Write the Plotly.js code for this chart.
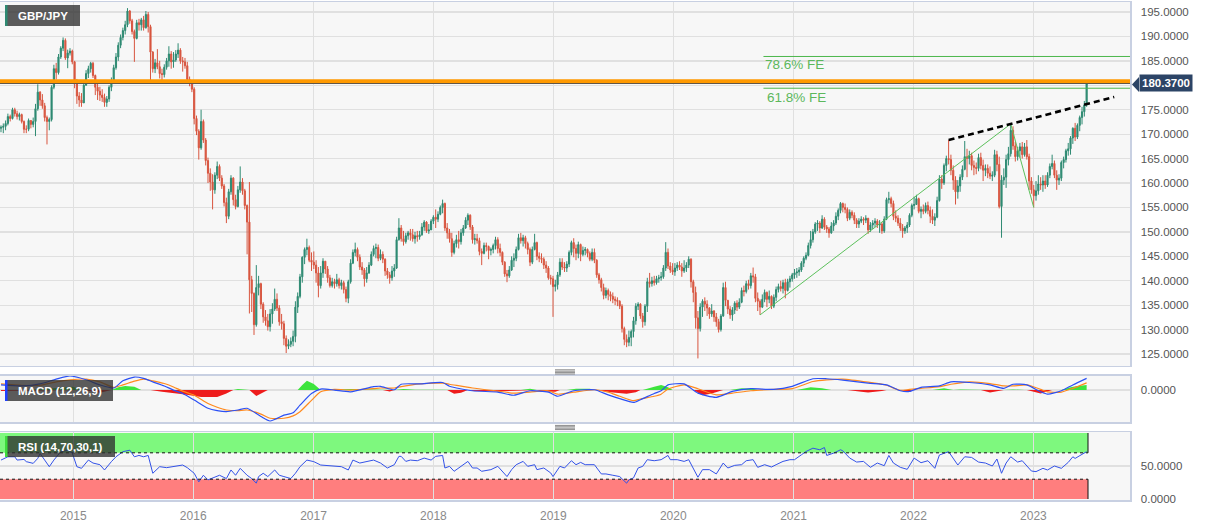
<!DOCTYPE html>
<html>
<head>
<meta charset="utf-8">
<script src="https://cdn.plot.ly/plotly-3.0.1.min.js"></script>
<style>
html,body{margin:0;padding:0;background:#ffffff;}
#chart{width:1207px;height:526px;}
</style>
</head>
<body>
<div id="chart"></div>
<script>
// ---------------- DATA (weekly GBP/JPY candles, first week starting 2014-05-26) ----------------
const firstWeek = '2014-05-26';

const open = [
171.2,171.4,171.6,172.2,173.6,173.2,175.0,174.2,173.6,174.0,
172.6,171.0,171.0,172.8,172.0,172.6,175.2,178.6,177.0,175.8,
173.4,172.6,173.0,179.6,183.4,182.6,185.8,187.6,189.2,185.6,
186.6,187.0,
184.8,180.7,177.8,177.0,176.4,180.0,182.4,183.4,184.5,182.0,
179.6,178.8,178.0,177.5,176.5,177.2,179.6,181.0,183.6,185.8,
188.2,189.8,191.2,192.4,195.2,193.2,191.0,189.6,192.8,192.4,
193.4,191.8,194.5,192.0,186.8,183.4,184.6,183.8,182.4,182.2,
183.7,185.0,186.4,184.8,185.2,186.4,187.2,185.0,184.8,184.0,
181.2,180.6,
179.2,173.2,170.6,167.2,172.6,168.8,164.6,162.0,160.2,158.6,
161.6,163.4,161.0,159.4,156.0,153.2,158.2,161.0,156.6,155.2,
158.6,160.2,158.4,155.4,152.0,140.2,137.4,131.0,138.6,139.4,
135.2,132.6,131.8,130.6,133.2,134.2,136.2,134.4,131.6,131.2,
128.2,126.6,127.0,127.6,128.6,134.6,136.8,140.8,144.8,146.4,
146.8,144.2,
143.8,143.2,141.6,139.0,141.6,144.0,142.4,140.6,139.0,139.8,
139.4,140.2,139.0,139.6,138.2,136.4,139.8,143.6,145.8,146.4,
144.8,142.8,142.2,140.4,141.6,143.2,145.4,146.6,146.8,144.6,
145.4,144.4,142.0,141.2,140.6,142.0,142.6,148.4,150.8,148.6,
148.0,149.2,149.8,149.4,148.6,149.2,149.0,149.4,151.0,152.0,
150.2,150.4,
152.2,153.0,152.6,153.6,155.0,155.8,150.8,149.8,148.6,145.8,
147.6,148.4,148.0,149.8,150.8,152.4,153.4,151.0,148.4,148.6,
148.2,146.0,145.6,147.2,147.0,146.2,146.4,147.2,148.4,146.6,
145.8,143.8,141.4,141.0,142.2,144.2,144.6,146.4,148.8,148.2,
148.8,147.6,146.4,143.8,146.4,147.8,145.0,144.6,144.4,143.2,
142.6,140.6,
140.4,138.8,139.2,141.2,143.8,142.8,142.6,143.4,145.8,147.8,
146.6,145.6,147.4,145.4,146.2,146.4,145.6,144.4,145.8,144.2,
141.2,140.2,138.6,137.0,138.0,137.2,136.8,136.2,136.0,135.8,
134.8,130.2,128.0,127.4,128.4,129.6,131.8,134.8,135.2,132.8,
131.6,134.8,139.8,139.4,140.0,139.6,140.4,140.6,140.8,142.6,
145.8,143.0,
142.2,141.8,142.6,143.2,142.8,142.0,142.6,143.2,144.4,139.8,
137.6,132.4,130.2,134.6,135.8,135.2,134.4,133.2,133.8,132.6,
131.6,130.0,132.8,138.6,136.0,134.2,133.0,134.0,135.4,134.6,
135.6,138.0,137.8,139.4,139.0,141.0,140.8,136.4,135.8,134.6,
136.2,137.6,136.2,136.8,134.8,136.6,138.2,138.8,138.4,139.6,
138.0,139.8,140.4,
141.2,141.6,141.8,142.2,143.6,144.6,145.2,147.2,148.4,150.0,
151.6,151.8,150.8,152.6,151.0,150.6,149.8,151.2,151.8,153.2,
154.4,155.8,155.0,154.6,152.8,154.0,153.4,152.4,151.6,152.2,
152.6,152.4,152.8,150.4,151.4,151.8,152.2,151.4,151.6,150.2,
152.6,156.6,156.8,155.8,153.2,152.8,151.8,150.8,150.2,150.8,
151.4,153.4,
155.4,155.6,156.8,154.2,154.6,154.2,155.4,154.4,153.2,152.4,
153.0,156.4,160.8,160.0,163.6,165.0,164.8,162.6,160.6,158.2,
159.4,161.2,162.8,165.4,165.0,165.6,163.6,163.2,163.0,165.2,
163.6,162.6,163.0,162.0,161.4,161.6,165.8,163.8,155.2,160.6,
161.2,164.8,166.0,170.8,167.6,165.4,166.6,167.4,165.8,167.4,
165.4,160.4,
158.6,157.4,158.4,159.8,159.6,160.4,159.6,161.6,163.4,164.0,
161.6,160.6,161.0,164.2,164.8,166.6,167.0,169.2,171.2,169.4,
171.8,173.4,174.6,176.0
];

const high = [
171.8,172.2,172.8,174.2,174.0,175.4,175.4,174.8,174.4,174.2,
172.8,171.8,173.2,172.8,173.4,176.2,180.2,178.8,178.2,176.4,
173.8,173.4,180.0,184.2,184.6,186.4,188.0,189.8,189.6,187.3,
187.6,187.3,
185.0,181.3,178.6,178.4,181.0,183.1,184.0,184.8,184.8,182.2,
181.1,179.7,179.2,178.3,177.8,180.0,181.6,184.2,186.6,188.8,
190.4,191.8,193.2,195.8,195.4,193.6,191.4,193.4,193.6,193.8,
194.2,195.2,195.0,192.4,187.0,185.4,187.4,185.0,183.4,184.3,
185.6,188.0,187.0,186.8,187.2,188.6,187.6,185.8,185.6,184.8,
181.8,181.0,
179.6,173.8,171.0,175.0,173.0,169.2,165.2,163.0,161.8,162.2,
164.4,163.8,161.6,159.8,157.0,158.8,161.6,161.2,157.6,159.4,
163.4,161.0,158.8,155.6,160.2,141.0,137.6,143.2,141.0,139.6,
135.6,134.0,133.2,134.2,135.4,138.4,137.4,135.0,133.2,131.8,
128.8,128.0,128.4,129.8,135.8,137.6,141.4,145.0,146.8,148.6,
147.2,145.8,
146.0,144.2,142.8,143.0,144.6,144.0,143.0,141.2,140.6,140.4,
141.4,140.6,140.2,140.0,138.8,140.2,144.4,146.4,147.8,146.8,
145.4,143.8,142.6,142.8,143.8,146.0,147.2,147.6,147.4,146.4,
146.0,144.6,142.6,141.8,143.0,143.4,149.0,152.8,151.4,150.2,
149.8,150.2,150.6,150.6,150.0,150.2,150.2,151.8,152.4,152.2,
151.6,152.6,
153.4,154.6,154.2,155.4,156.6,156.0,151.8,150.6,149.8,148.2,
149.4,150.2,150.6,151.4,153.0,153.8,153.6,151.4,149.6,149.6,
148.8,146.6,147.8,147.8,147.2,146.8,147.6,149.0,148.9,147.6,
146.0,144.0,142.2,143.0,145.0,145.6,147.0,149.6,149.8,149.4,
149.2,148.0,146.8,147.0,149.6,148.0,145.8,145.6,144.8,144.0,
143.0,141.2,
141.0,140.2,141.8,144.6,144.6,143.8,144.0,146.2,148.2,148.7,
147.4,148.0,147.6,147.0,146.9,146.6,146.0,146.6,146.6,144.4,
141.6,140.6,139.4,138.6,138.4,137.8,137.6,136.8,136.6,136.0,
135.2,130.6,129.0,129.8,130.0,132.6,135.4,135.6,135.4,133.4,
135.2,140.6,141.6,140.8,141.0,141.0,141.2,141.8,143.2,147.9,
146.6,143.8,
143.6,143.6,143.8,144.0,143.6,144.2,143.8,145.0,144.6,140.2,
138.8,133.8,135.4,136.2,136.6,136.0,134.6,135.2,134.0,133.4,
132.2,133.2,139.6,139.8,136.0,134.8,134.6,135.8,136.0,136.4,
138.6,139.0,140.0,140.2,141.6,142.7,141.4,137.6,136.2,137.2,
138.2,137.8,138.0,137.0,137.2,138.8,139.4,140.0,140.2,140.4,
140.4,141.0,141.6,
142.4,142.6,142.8,144.0,145.0,145.8,147.8,150.2,150.6,152.0,
152.4,152.2,153.4,153.0,151.4,151.0,152.0,152.4,154.0,154.8,
156.1,156.0,155.8,155.0,154.6,154.4,154.0,152.8,152.8,153.2,
153.0,153.4,152.8,152.0,152.4,152.8,152.6,152.4,152.0,153.2,
157.0,158.2,157.2,156.4,154.4,153.4,152.8,151.6,151.2,152.0,
153.8,155.8,
157.2,157.6,157.0,155.2,155.6,156.0,156.2,155.2,154.6,153.8,
157.2,161.6,161.6,164.0,165.6,168.8,165.8,163.6,161.4,160.6,
161.8,163.6,168.6,167.0,166.6,166.2,164.6,164.2,166.0,166.2,
164.8,163.8,163.8,163.4,162.4,166.8,166.6,165.4,161.6,163.0,
165.8,167.4,172.1,171.6,168.4,167.4,168.2,168.4,168.2,168.8,
166.0,161.2,
159.6,160.4,161.6,161.2,161.6,161.6,162.2,164.0,165.8,164.6,
162.6,161.8,164.6,165.4,167.0,168.2,169.6,171.4,172.3,172.2,
173.8,175.6,176.8,180.6
];

const low = [
170.4,170.2,170.8,171.8,172.6,173.0,173.6,173.0,172.8,172.2,
170.2,170.2,170.6,171.2,171.4,169.6,174.8,175.8,175.2,172.6,
167.9,170.8,172.6,179.2,181.2,182.2,185.4,187.0,185.2,183.5,
186.1,184.3,
179.4,176.2,175.6,175.6,176.4,180.0,181.5,182.6,181.5,178.0,
177.0,176.8,176.6,175.6,175.6,176.6,178.8,180.6,183.2,185.0,
187.6,189.2,190.4,191.9,192.6,190.4,184.8,189.4,191.2,191.2,
191.2,191.6,190.8,180.5,182.6,182.5,183.3,181.4,180.8,181.6,
183.2,183.8,183.4,183.6,184.8,185.6,184.4,182.8,183.4,180.6,
179.8,178.6,
172.0,169.8,164.8,166.8,168.2,163.6,160.0,158.4,154.6,157.8,
160.8,160.4,158.8,155.2,151.8,152.6,157.6,155.4,154.6,155.0,
158.0,157.6,154.6,145.4,133.3,133.6,128.9,130.6,137.0,134.2,
131.4,130.8,129.8,129.6,131.2,133.8,133.8,130.8,130.0,126.8,
125.2,126.0,126.4,126.6,127.4,133.4,136.4,139.6,143.4,145.2,
143.8,142.0,
142.4,139.6,136.6,138.4,140.6,141.4,139.6,138.6,138.6,138.4,
138.8,138.4,138.2,137.4,135.6,135.4,139.4,143.4,145.0,144.0,
142.2,141.2,138.8,139.6,141.4,143.0,145.0,144.6,144.0,144.2,
143.6,141.0,140.4,139.4,140.0,140.8,142.4,148.2,148.0,147.2,
147.6,148.4,148.2,148.0,147.6,148.0,148.4,149.2,150.2,149.8,
149.6,150.4,
151.6,150.8,152.0,153.4,153.8,150.2,148.6,147.8,144.9,145.4,
146.8,146.6,147.4,149.2,150.6,151.4,150.4,147.6,147.4,147.6,
145.2,143.2,145.4,146.0,144.4,145.2,145.6,146.4,145.6,145.0,
143.2,140.8,139.7,140.6,142.0,142.8,144.0,146.2,147.6,147.0,
146.6,145.4,143.0,143.4,146.2,144.2,143.8,143.6,142.4,141.6,
140.2,139.2,
132.6,137.8,138.2,140.8,142.2,141.8,141.8,142.8,145.2,144.8,
144.2,144.6,144.0,145.0,145.2,144.8,144.0,144.0,143.6,140.6,
139.4,137.8,136.2,136.4,136.0,135.8,135.4,135.0,134.8,134.2,
129.4,126.8,126.4,126.6,126.6,128.4,131.0,134.0,132.2,130.4,
130.8,133.6,138.6,138.8,139.0,139.2,139.6,140.0,140.4,142.0,
142.4,141.6,
141.2,141.0,142.0,142.2,140.8,141.6,141.8,142.6,138.6,135.6,
130.2,124.1,129.6,132.6,133.8,132.8,132.2,132.6,131.6,130.6,
129.4,129.6,132.6,134.8,133.2,132.2,131.8,133.2,133.8,134.2,
135.4,136.8,137.4,138.2,138.4,139.6,135.6,133.8,133.0,134.4,
135.6,134.6,135.4,134.2,134.4,135.8,137.6,137.8,137.4,136.4,
137.8,138.6,139.8,
140.4,140.6,141.0,141.8,142.8,144.2,145.0,146.6,147.8,149.6,
150.2,149.8,150.6,150.4,149.8,148.8,149.6,150.2,151.4,152.4,
153.8,154.0,153.8,152.2,152.4,152.8,151.6,150.8,150.8,151.8,
151.4,151.8,149.6,150.0,150.6,151.0,150.8,149.8,149.6,149.8,
152.4,155.8,155.0,152.4,152.0,151.2,150.2,148.8,149.6,149.8,
151.0,153.0,
154.6,155.6,153.8,152.8,153.6,153.8,153.6,151.8,151.6,151.2,
152.8,156.2,158.8,159.6,162.4,163.8,161.6,158.6,155.6,156.8,
158.2,160.6,162.6,161.2,163.8,162.6,161.6,161.8,162.4,162.8,
160.4,161.4,161.0,160.8,160.4,161.2,162.4,154.8,148.8,159.6,
159.0,163.6,165.4,166.8,164.4,164.6,165.2,165.0,165.4,164.8,
158.6,157.8,
155.0,156.4,157.6,158.6,158.2,158.8,159.2,161.0,162.8,161.0,
158.6,159.6,160.4,163.0,164.2,165.6,165.8,168.0,168.6,169.0,
170.6,172.0,173.6,175.6
];

const close = [
171.4,171.6,172.2,173.6,173.2,175.0,174.2,173.6,174.0,172.6,
171.0,171.0,172.8,172.0,172.6,175.2,178.6,177.0,175.8,173.4,
172.6,173.0,179.6,183.4,182.6,185.8,187.6,189.2,185.6,186.6,
187.0,184.8,
180.7,177.8,177.0,176.4,180.0,182.4,183.4,184.5,182.0,179.6,
178.8,178.0,177.5,176.5,177.2,179.6,181.0,183.6,185.8,188.2,
189.8,191.2,192.4,195.2,193.2,191.0,189.6,192.8,192.4,193.4,
191.8,194.5,192.0,186.8,183.4,184.6,183.8,182.4,182.2,183.7,
185.0,186.4,184.8,185.2,186.4,187.2,185.0,184.8,184.0,181.2,
180.6,179.2,
173.2,170.6,167.2,172.6,168.8,164.6,162.0,160.2,158.6,161.6,
163.4,161.0,159.4,156.0,153.2,158.2,161.0,156.6,155.2,158.6,
160.2,158.4,155.4,152.0,140.2,137.4,131.0,138.6,139.4,135.2,
132.6,131.8,130.6,133.2,134.2,136.2,134.4,131.6,131.2,128.2,
126.6,127.0,127.6,128.6,134.6,136.8,140.8,144.8,146.4,146.8,
144.2,143.8,
143.2,141.6,139.0,141.6,144.0,142.4,140.6,139.0,139.8,139.4,
140.2,139.0,139.6,138.2,136.4,139.8,143.6,145.8,146.4,144.8,
142.8,142.2,140.4,141.6,143.2,145.4,146.6,146.8,144.6,145.4,
144.4,142.0,141.2,140.6,142.0,142.6,148.4,150.8,148.6,148.0,
149.2,149.8,149.4,148.6,149.2,149.0,149.4,151.0,152.0,150.2,
150.4,152.2,
153.0,152.6,153.6,155.0,155.8,150.8,149.8,148.6,145.8,147.6,
148.4,148.0,149.8,150.8,152.4,153.4,151.0,148.4,148.6,148.2,
146.0,145.6,147.2,147.0,146.2,146.4,147.2,148.4,146.6,145.8,
143.8,141.4,141.0,142.2,144.2,144.6,146.4,148.8,148.2,148.8,
147.6,146.4,143.8,146.4,147.8,145.0,144.6,144.4,143.2,142.6,
140.6,140.4,
138.8,139.2,141.2,143.8,142.8,142.6,143.4,145.8,147.8,146.6,
145.6,147.4,145.4,146.2,146.4,145.6,144.4,145.8,144.2,141.2,
140.2,138.6,137.0,138.0,137.2,136.8,136.2,136.0,135.8,134.8,
130.2,128.0,127.4,128.4,129.6,131.8,134.8,135.2,132.8,131.6,
134.8,139.8,139.4,140.0,139.6,140.4,140.6,140.8,142.6,145.8,
143.0,142.2,
141.8,142.6,143.2,142.8,142.0,142.6,143.2,144.4,139.8,137.6,
132.4,130.2,134.6,135.8,135.2,134.4,133.2,133.8,132.6,131.6,
130.0,132.8,138.6,136.0,134.2,133.0,134.0,135.4,134.6,135.6,
138.0,137.8,139.4,139.0,141.0,140.8,136.4,135.8,134.6,136.2,
137.6,136.2,136.8,134.8,136.6,138.2,138.8,138.4,139.6,138.0,
139.8,140.4,141.2,
141.6,141.8,142.2,143.6,144.6,145.2,147.2,148.4,150.0,151.6,
151.8,150.8,152.6,151.0,150.6,149.8,151.2,151.8,153.2,154.4,
155.8,155.0,154.6,152.8,154.0,153.4,152.4,151.6,152.2,152.6,
152.4,152.8,150.4,151.4,151.8,152.2,151.4,151.6,150.2,152.6,
156.6,156.8,155.8,153.2,152.8,151.8,150.8,150.2,150.8,151.4,
153.4,155.4,
155.6,156.8,154.2,154.6,154.2,155.4,154.4,153.2,152.4,153.0,
156.4,160.8,160.0,163.6,165.0,164.8,162.6,160.6,158.2,159.4,
161.2,162.8,165.4,165.0,165.6,163.6,163.2,163.0,165.2,163.6,
162.6,163.0,162.0,161.4,161.6,165.8,163.8,155.2,160.6,161.2,
164.8,166.0,170.8,167.6,165.4,166.6,167.4,165.8,167.4,165.4,
160.4,158.6,
157.4,158.4,159.8,159.6,160.4,159.6,161.6,163.4,164.0,161.6,
160.6,161.0,164.2,164.8,166.6,167.0,169.2,171.2,169.4,171.8,
173.4,174.6,176.0,180.37
];

// MACD (12,26,9): week number -> value
const macdWeek = [0,9,17,24,30,37,43,49,53,58,62,66,71,75,79,84,90,94,98,103,107,113,117,123,127,130,135,139,145,152,162,165,171,174,182,192,195,205,216,223,230,238,242,249,258,264,269,275,278,284,287,290,297,303,311,318,326,336,344,353,359,366,377,385,391,395,400,408,413,421,430,436,440,446,452,455,461,466,472];
const macdLine = [
1.5,1.2,1.8,3.2,4.1,3.0,1.5,0.6,2.7,3.8,
3.4,2.4,1.2,0.0,-1.0,-2.9,-5.3,-6.0,-6.3,-5.8,
-5.3,-7.7,-9.0,-7.3,-6.6,-4.4,-1.0,0.3,0.0,-0.5,
1.0,1.1,0.1,1.7,1.8,2.2,1.1,-0.2,-0.6,-1.5,
-0.2,-0.6,-1.8,-0.2,0.1,-1.4,-2.5,-3.6,-2.8,-1.0,
-0.2,1.5,1.8,-0.9,-2.1,-0.4,0.4,0.2,1.1,3.3,
3.3,2.9,2.0,1.5,-0.2,-0.4,0.8,1.2,2.4,2.2,
1.5,0.5,1.7,1.5,-0.5,-1.2,-0.2,1.5,3.4];
const signalLine = [
1.8,1.4,1.4,2.4,3.0,3.2,2.4,0.8,1.5,2.6,
3.2,2.7,1.9,0.9,-0.3,-1.5,-3.9,-5.0,-5.8,-6.0,
-5.8,-7.0,-8.2,-8.2,-7.5,-6.3,-3.0,-0.5,0.2,0.0,
0.4,0.6,0.6,1.0,1.8,2.0,1.7,0.6,-0.3,-0.9,
-0.6,-0.2,-1.2,-0.6,0.1,-0.6,-1.8,-3.1,-2.6,-1.8,
-1.2,0.3,1.5,0.4,-1.4,-0.9,-0.2,0.2,0.4,2.5,
3.0,3.2,2.3,1.4,-0.1,0.2,0.5,1.0,1.7,2.4,
1.9,1.2,1.2,1.5,0.2,-0.5,-0.6,0.5,2.1];
const histWeek = [0,10,20,26,31,36,43,48,51,54,58,61,65,70,75,80,87,94,98,101,103,107,108,111,116,129,131,133,136,139,145,152,160,166,169,171,175,180,192,194,197,200,203,205,215,225,226,230,233,235,241,243,246,250,256,258,259,265,272,276,278,279,284,287,290,292,301,305,309,314,317,322,327,329,335,346,352,357,361,368,374,377,383,385,391,394,397,405,410,414,417,421,426,430,436,440,445,446,452,457,461,465,468,472];
const histVal = [-0.3,-0.2,0.4,0.8,1.0,0.0,-0.8,0,0.8,1.2,1.0,0,0,-0.5,-0.8,-1.3,-2.0,-2.0,-1.0,0,0.3,0,0,-1.7,0,0,1.5,2.7,1.8,0,0.1,0.3,0.2,0,-0.4,0,0.3,0.1,0.1,0,-1.1,-0.8,0,-0.3,-0.4,-0.1,0,0.4,0,-0.4,-0.5,0,0,0.4,0.4,0,0,-0.6,-1.1,-0.6,0,0,1.0,1.5,0.8,0,0,-1.5,-1.0,0,0,0.5,0.4,0,0.1,0,0.8,0.5,0,0,-0.5,-0.7,-0.3,0,0,-0.5,0,0,0.5,0,0.2,0.1,0,-0.7,0,0.2,0,0,-1.0,0,0,0.8,1.2,1.5];

// RSI (14): week number -> value
const rsiWeek = [0,3,6,7,10,11,14,16,17,19,21,23,26,29,31,33,35,38,40,43,45,48,50,53,56,58,60,62,64,66,69,72,75,79,81,84,86,88,90,93,95,98,100,102,104,107,109,111,112,114,116,119,121,123,126,128,130,133,136,139,143,148,151,153,156,159,162,165,168,171,173,174,176,178,181,184,187,189,192,193,195,197,200,203,205,207,209,213,216,218,220,222,224,227,229,232,233,236,239,240,243,245,248,250,252,254,258,261,263,266,269,272,273,275,277,279,281,284,287,290,291,294,297,299,301,303,305,308,311,314,316,319,322,324,327,329,332,335,337,340,343,345,348,350,353,356,358,359,362,365,366,369,372,375,378,381,384,386,388,391,394,397,400,403,406,408,412,416,419,422,425,428,431,433,435,437,439,442,444,446,448,450,453,455,458,461,464,466,467,470,472];
const rsiVal = [59,64,64,59,60,56.6,54,61.6,69,59,49,59,71.7,74,69.6,49,46.5,59,54.5,52,44,56.6,64,71.7,74,64,66,64,66,39,49,47.5,49,51.5,47.5,39,26,36,29,33,36,31,44,36,46.5,36,31,24,34,39,34,44,36,34,31,39,49,59,56.6,51.5,50,49,44,59,54.5,56.6,59,54.5,47,52,64.6,64.6,57,59,58,62,59,64.6,66,47,49.5,42,49.5,57,47,47,42,44.5,49.5,42,34,44.5,52,57,49.5,52,44.5,47,39.5,34,49.5,47,58,52,55.5,52,52,38,38,36,34,24,29,32,47,49.5,59.6,58,59.6,66,59.6,59.6,57,59.6,47,33,44.5,44.5,38,54.5,47,51,52,58,59.6,48,52,48.5,52,57,59.6,59.6,67,72,77,74.6,78,66,69.5,74.6,73,62,56,57,48,54.5,50.5,66,54.5,48,45,62,55,58,46.5,66.7,71.7,51.5,64,63,56,54.5,50,60.6,39,54.5,64,56,58,50,42.4,41.5,46.5,44,50,46.5,55.5,64,61.5,67.7,71.7];

// Drawn studies
const fibWeeks = [330, 439, 449];
const fibValues = [133.0, 172.1, 155.0];
const trendWeeks = [412, 484];
const trendValues = [168.8, 177.6];
const feLevels = [185.9, 179.4];
const feLabels = ['78.6% FE', '61.8% FE'];
const feLabelValues = [184.35, 177.6];
const resistanceLevel = 180.85;
const lastPrice = 180.37;
const rsiUpper = 70, rsiLower = 30;

// ---------------- helpers ----------------
const DAY = 86400000;
const T0 = Date.UTC(2014, 4, 26);
function weekDate(w) {
  return new Date(T0 + w * 7 * DAY).toISOString().slice(0, 19).replace('T', ' ');
}
const dates = close.map((_, i) => weekDate(i));
const X0 = '2014-05-23', X1 = '2023-10-22';
const PW = 1130, PT = 2, PB = 500, PH = 498;
const px = x => x / PW;
const py = y => (PB - y) / PH;

const FONT = 'Liberation Sans, Arial, sans-serif';
const GRID = '#e0e0e0';
const BORDER = '#c8d0e2';
const UP = '#2e8a72', DOWN = '#d8553f';

const histPos = histVal.map(v => (v > 0 ? v : 0));
const histNeg = histVal.map(v => (v < 0 ? v : 0));
const histDates = histWeek.map(weekDate);

const traces = [
  {
    type: 'candlestick', x: dates, open: open, high: high, low: low, close: close,
    xaxis: 'x', yaxis: 'y', hoverinfo: 'skip', whiskerwidth: 0,
    increasing: { line: { color: UP, width: 1 }, fillcolor: UP },
    decreasing: { line: { color: DOWN, width: 1 }, fillcolor: DOWN }
  },
  {
    type: 'scatter', mode: 'lines', x: fibWeeks.map(weekDate), y: fibValues,
    xaxis: 'x', yaxis: 'y', line: { color: '#5cc05c', width: 1 }, hoverinfo: 'skip'
  },
  {
    type: 'scatter', mode: 'lines', x: trendWeeks.map(weekDate), y: trendValues,
    xaxis: 'x', yaxis: 'y', line: { color: '#000000', width: 2.6, dash: '6px,4px' }, hoverinfo: 'skip'
  },
  {
    type: 'scatter', mode: 'lines', x: histDates, y: histPos, xaxis: 'x2', yaxis: 'y2',
    fill: 'tozeroy', fillcolor: '#3de43d', line: { width: 0, color: '#3de43d' }, hoverinfo: 'skip'
  },
  {
    type: 'scatter', mode: 'lines', x: histDates, y: histNeg, xaxis: 'x2', yaxis: 'y2',
    fill: 'tozeroy', fillcolor: '#ee1c1c', line: { width: 0, color: '#ee1c1c' }, hoverinfo: 'skip'
  },
  {
    type: 'scatter', mode: 'lines', x: macdWeek.map(weekDate), y: signalLine, xaxis: 'x2', yaxis: 'y2',
    line: { color: '#ff8a1e', width: 1.2, shape: 'spline', smoothing: 0.6 }, hoverinfo: 'skip'
  },
  {
    type: 'scatter', mode: 'lines', x: macdWeek.map(weekDate), y: macdLine, xaxis: 'x2', yaxis: 'y2',
    line: { color: '#2b50f5', width: 1.2, shape: 'spline', smoothing: 0.6 }, hoverinfo: 'skip'
  },
  {
    type: 'scatter', mode: 'lines', x: rsiWeek.map(weekDate), y: rsiVal, xaxis: 'x3', yaxis: 'y3',
    line: { color: '#3352e8', width: 1 }, hoverinfo: 'skip'
  }
];

const xBase = {
  type: 'date', range: [X0, X1], showgrid: true, gridcolor: GRID, gridwidth: 1.3,
  tick0: '2015-01-01', dtick: 'M12', zeroline: false, showline: true, mirror: true,
  linecolor: BORDER, linewidth: 1.5, fixedrange: true, rangeslider: { visible: false }
};
const yTickFont = { family: FONT, size: 11.5, color: '#555555' };
const yBase = {
  side: 'right', showgrid: true, gridcolor: GRID, gridwidth: 1.3, zeroline: false,
  showline: true, mirror: true, linecolor: BORDER, linewidth: 1.5, fixedrange: true,
  ticks: 'outside', ticklen: 7, tickcolor: 'rgba(0,0,0,0)', tickfont: yTickFont
};

const bandEnd = weekDate(472.6);
const shapes = [
  // RSI zones
  { type: 'rect', xref: 'x3', yref: 'y3', x0: X0, x1: bandEnd, y0: rsiUpper, y1: 100, fillcolor: '#7ef87e', line: { width: 0 }, layer: 'below' },
  { type: 'rect', xref: 'x3', yref: 'y3', x0: X0, x1: bandEnd, y0: 0, y1: rsiLower, fillcolor: '#ff7e7e', line: { width: 0 }, layer: 'below' },
  { type: 'line', xref: 'x3', yref: 'y3', x0: X0, x1: bandEnd, y0: rsiUpper, y1: rsiUpper, line: { color: '#111', width: 1, dash: 'dot' } },
  { type: 'line', xref: 'x3', yref: 'y3', x0: X0, x1: bandEnd, y0: rsiLower, y1: rsiLower, line: { color: '#111', width: 1, dash: 'dot' } },
  { type: 'line', xref: 'x3', yref: 'y3', x0: bandEnd, x1: bandEnd, y0: rsiUpper, y1: 100, line: { color: '#111', width: 1 } },
  { type: 'line', xref: 'x3', yref: 'y3', x0: bandEnd, x1: bandEnd, y0: 0, y1: rsiLower, line: { color: '#111', width: 1 } },
  // Fibonacci expansion levels
  { type: 'line', xref: 'x', yref: 'y', x0: weekDate(331.5), x1: X1, y0: feLevels[0], y1: feLevels[0], line: { color: '#4cb64c', width: 1 } },
  { type: 'line', xref: 'x', yref: 'y', x0: weekDate(331.5), x1: X1, y0: feLevels[1], y1: feLevels[1], line: { color: '#4cb64c', width: 1 } },
  // last price + resistance
  { type: 'line', xref: 'paper', yref: 'y', x0: 0, x1: 1, y0: lastPrice, y1: lastPrice, line: { color: '#2b3e5e', width: 1 } },
  { type: 'line', xref: 'paper', yref: 'y', x0: 0, x1: 1, y0: resistanceLevel, y1: resistanceLevel, line: { color: '#ff9900', width: 4 } },
  // price tag arrow
  { type: 'path', xref: 'paper', yref: 'paper',
    path: `M ${px(1132)} ${py(84.5)} L ${px(1139)} ${py(77)} L ${px(1139)} ${py(92)} Z`,
    fillcolor: '#2c4466', line: { width: 0 } },
  // label boxes
  { type: 'rect', xref: 'paper', yref: 'paper', x0: px(5), x1: px(80), y0: py(26), y1: py(5), fillcolor: 'rgba(48,48,48,0.78)', line: { width: 0 } },
  { type: 'rect', xref: 'paper', yref: 'paper', x0: px(5), x1: px(7.5), y0: py(26), y1: py(5), fillcolor: UP, line: { width: 0 } },
  { type: 'rect', xref: 'paper', yref: 'paper', x0: px(5), x1: px(113), y0: py(401), y1: py(380), fillcolor: 'rgba(48,48,48,0.78)', line: { width: 0 } },
  { type: 'rect', xref: 'paper', yref: 'paper', x0: px(5), x1: px(7.5), y0: py(401), y1: py(380), fillcolor: '#2040ff', line: { width: 0 } },
  { type: 'rect', xref: 'paper', yref: 'paper', x0: px(5), x1: px(115), y0: py(457), y1: py(436), fillcolor: 'rgba(48,48,48,0.78)', line: { width: 0 } },
  { type: 'rect', xref: 'paper', yref: 'paper', x0: px(5), x1: px(7.5), y0: py(457), y1: py(436), fillcolor: '#3ddc3d', line: { width: 0 } }
];
// panel resize handles
[369.8, 371.2, 372.6, 374.0, 425.4, 426.8, 428.2, 429.6].forEach(y => {
  shapes.push({ type: 'line', xref: 'paper', yref: 'paper', x0: px(555), x1: px(575), y0: py(y), y1: py(y), line: { color: '#8a8a8a', width: 1 } });
});

const labelFont = { family: FONT, size: 11.5, color: '#ffffff', weight: 'bold' };
const annotations = [
  { xref: 'paper', yref: 'paper', x: px(16), y: py(15.5), text: 'GBP/JPY', showarrow: false, xanchor: 'left', yanchor: 'middle', font: labelFont },
  { xref: 'paper', yref: 'paper', x: px(16), y: py(390.5), text: 'MACD (12,26,9)', showarrow: false, xanchor: 'left', yanchor: 'middle', font: labelFont },
  { xref: 'paper', yref: 'paper', x: px(16), y: py(446.5), text: 'RSI (14,70,30,1)', showarrow: false, xanchor: 'left', yanchor: 'middle', font: labelFont },
  { xref: 'x', yref: 'y', x: weekDate(331.5), y: feLabelValues[0], text: feLabels[0], showarrow: false, xanchor: 'left', yanchor: 'middle',
    font: { family: FONT, size: 13.5, color: '#5cb85c' } },
  { xref: 'x', yref: 'y', x: weekDate(332.2), y: feLabelValues[1], text: feLabels[1], showarrow: false, xanchor: 'left', yanchor: 'middle',
    font: { family: FONT, size: 13.5, color: '#5cb85c' } },
  { xref: 'paper', yref: 'y', x: px(1139), y: lastPrice, text: lastPrice.toFixed(4), showarrow: false, xanchor: 'left', yanchor: 'middle',
    bgcolor: '#2c4466', borderpad: 2, font: { family: FONT, size: 11.5, color: '#ffffff', weight: 'bold' } }
];

const layout = {
  width: 1207, height: 526,
  margin: { l: 0, r: 77, t: PT, b: 26, pad: 0 },
  paper_bgcolor: '#ffffff', plot_bgcolor: '#f7f7f7',
  font: { family: FONT },
  showlegend: false, hovermode: false, dragmode: false,
  xaxis: Object.assign({}, xBase, { anchor: 'y', showticklabels: false }),
  xaxis2: Object.assign({}, xBase, { anchor: 'y2', showticklabels: false, matches: 'x' }),
  xaxis3: Object.assign({}, xBase, {
    anchor: 'y3', showticklabels: true, matches: 'x', tickformat: '%Y',
    ticks: 'outside', ticklen: 4, tickcolor: 'rgba(0,0,0,0)',
    tickfont: { family: FONT, size: 12, color: '#8a8a8a' }
  }),
  yaxis: Object.assign({}, yBase, { domain: [0.2691, 1], range: [122.55, 197.05], anchor: 'x', dtick: 5, tick0: 125, tickformat: '.4f' }),
  yaxis2: Object.assign({}, yBase, { domain: [0.1566, 0.249], range: [-9.3, 4.1], anchor: 'x2', tickvals: [0], ticktext: ['0.0000'] }),
  yaxis3: Object.assign({}, yBase, { domain: [0, 0.1365], range: [-1.5, 101.5], anchor: 'x3', tickvals: [0, 50], tickformat: '.4f' }),
  shapes: shapes,
  annotations: annotations
};

Plotly.newPlot('chart', traces, layout, { displayModeBar: false, staticPlot: true });
</script>
</body>
</html>
